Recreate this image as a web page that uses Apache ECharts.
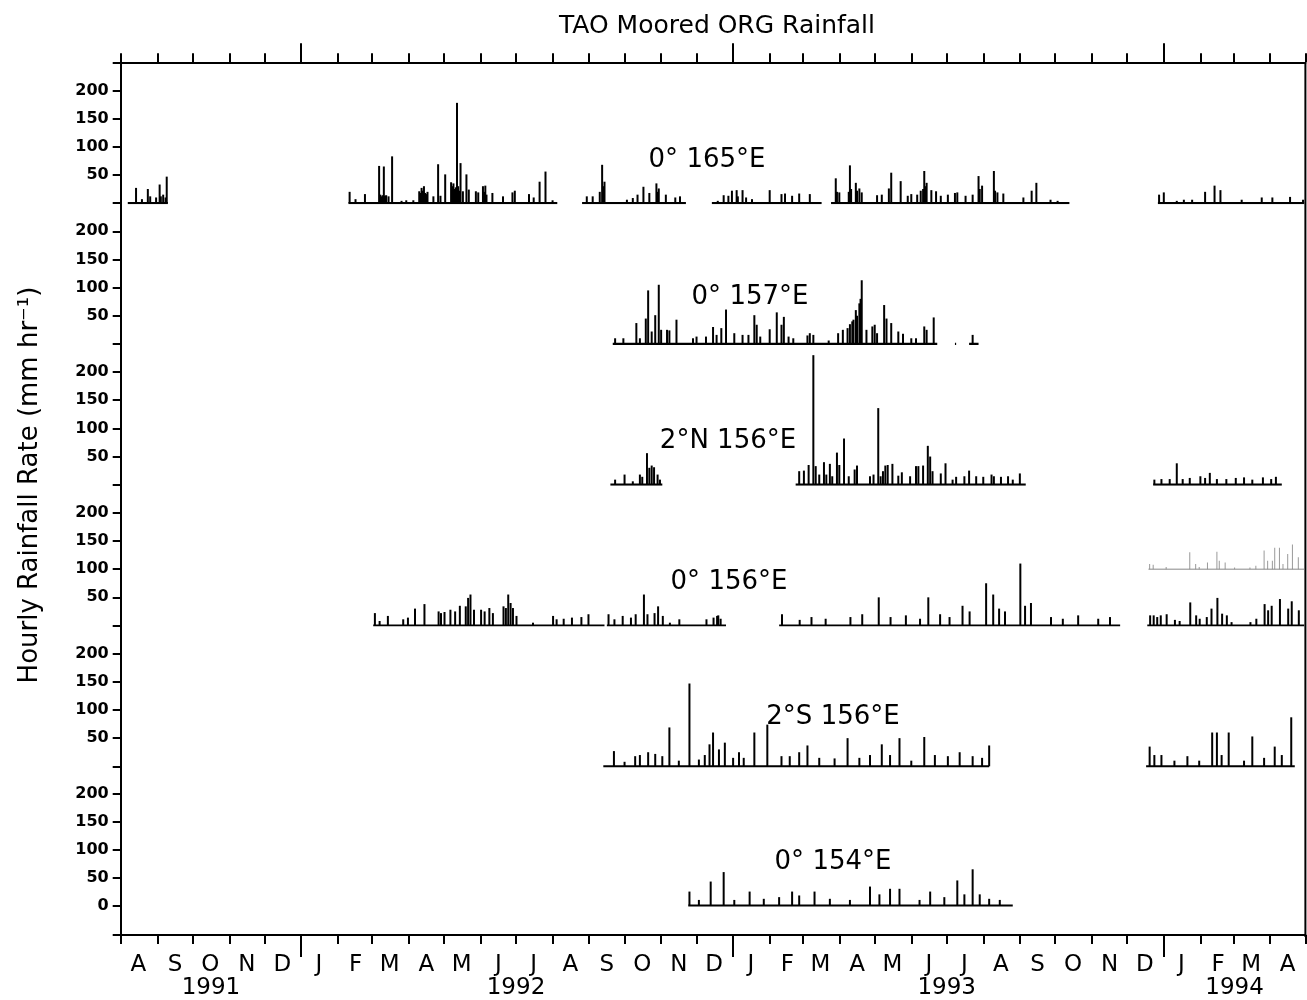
<!DOCTYPE html>
<html><head><meta charset="utf-8">
<script src="https://cdn.jsdelivr.net/npm/echarts@6/dist/echarts.min.js"></script>
<style>html,body{margin:0;padding:0;background:#fff}#c{width:1307px;height:1000px}</style>
</head><body><div id="c"></div><script>
// ---------------- data ----------------
const chartTitle = 'TAO Moored ORG Rainfall';
const yTitle = 'Hourly Rainfall Rate (mm hr⁻¹)';
const stationNames = ['0° 165°E', '0° 157°E', '2°N 156°E', '0° 156°E', '2°S 156°E', '0° 154°E'];
const monthLetters = ['A','S','O','N','D','J','F','M','A','M','J','J','A','S','O','N','D','J','F','M','A','M','J','J','A','S','O','N','D','J','F','M','A'];
const yearLabels = ['1991', '1992', '1993', '1994'];
const yTickValues = [0, 50, 100, 150, 200];
const timeStart = '1991-08-01';
const timeEnd = '1994-05-01';

// deployment periods (baseline segments)
const seg165 = [['1991-08-07','1991-09-10'],['1992-02-10','1992-08-05'],['1992-08-26','1992-11-22'],['1992-12-14','1993-03-17'],['1993-03-25','1993-10-13'],['1993-12-27','1994-04-30']];
const seg157 = [['1992-09-21','1993-06-23'],['1993-07-08','1993-07-09'],['1993-07-20','1993-07-28']];
const seg2N156 = [['1992-09-19','1992-11-02'],['1993-02-23','1993-09-06'],['1993-12-23','1994-04-11']];
const seg156 = [['1992-03-02','1992-09-14'],['1992-09-16','1992-12-26'],['1993-02-09','1993-11-25'],['1993-12-18','1994-04-30']];
const seg156b = [['1993-12-19','1994-04-30']];
const seg2S156 = [['1992-09-13','1993-08-06'],['1993-12-17','1994-04-22']];
const seg154 = [['1992-11-24','1993-08-26']];

// rainfall peaks [date, mm/hr]
const rain165 = [
 ['1991-08-14',27],['1991-08-19',7],['1991-08-24',25],['1991-08-26',12],['1991-08-31',10],['1991-09-03',33],['1991-09-04',12],['1991-09-06',15],['1991-09-08',10],['1991-09-09',47],
 ['1992-02-11',20],['1992-02-16',7],['1992-02-24',16],['1992-03-07',66],['1992-03-08',15],['1992-03-09',12],['1992-03-10',14],['1992-03-11',65],['1992-03-12',13],['1992-03-13',14],['1992-03-15',12],['1992-03-18',83],
 ['1992-03-26',4],['1992-03-30',5],['1992-04-05',5],['1992-04-10',21],['1992-04-11',18],['1992-04-12',27],['1992-04-13',22],['1992-04-14',30],['1992-04-15',18],['1992-04-16',16],['1992-04-17',20],['1992-04-22',12],
 ['1992-04-26',69],['1992-04-28',13],['1992-05-02',51],['1992-05-07',37],['1992-05-08',30],['1992-05-09',35],['1992-05-10',25],['1992-05-11',28],['1992-05-12',178],['1992-05-13',30],['1992-05-14',22],['1992-05-15',71],['1992-05-17',21],
 ['1992-05-20',51],['1992-05-22',24],['1992-05-28',21],['1992-05-30',19],['1992-06-03',30],['1992-06-04',20],['1992-06-05',31],['1992-06-06',15],['1992-06-11',18],['1992-06-20',12],['1992-06-28',19],['1992-06-30',22],
 ['1992-07-12',16],['1992-07-16',10],['1992-07-21',38],['1992-07-26',56],['1992-08-01',5],
 ['1992-08-30',12],['1992-09-04',12],['1992-09-10',20],['1992-09-12',68],['1992-09-13',30],['1992-09-14',38],['1992-10-03',6],['1992-10-08',9],['1992-10-12',15],['1992-10-17',29],
 ['1992-10-22',18],['1992-10-28',35],['1992-10-29',20],['1992-10-30',26],['1992-11-05',15],['1992-11-13',10],['1992-11-17',12],
 ['1992-12-19',4],['1992-12-24',14],['1992-12-28',13],['1992-12-31',22],['1993-01-04',23],['1993-01-05',12],['1993-01-09',23],['1993-01-12',10],['1993-01-17',7],['1993-02-01',23],['1993-02-11',16],
 ['1993-02-14',17],['1993-02-20',13],['1993-02-26',17],['1993-03-07',16],
 ['1993-03-29',44],['1993-03-30',20],['1993-04-01',19],['1993-04-09',20],['1993-04-10',67],['1993-04-11',25],['1993-04-15',36],['1993-04-16',22],['1993-04-18',26],['1993-04-20',19],['1993-05-03',14],['1993-05-07',15],['1993-05-13',26],['1993-05-15',54],
 ['1993-05-23',39],['1993-05-29',13],['1993-06-01',16],['1993-06-06',15],['1993-06-09',22],['1993-06-11',25],['1993-06-12',57],['1993-06-13',30],['1993-06-14',36],['1993-06-18',23],['1993-06-22',21],
 ['1993-06-26',13],['1993-07-02',15],['1993-07-08',18],['1993-07-10',19],['1993-07-17',13],['1993-07-23',15],['1993-07-28',48],['1993-07-29',25],['1993-07-31',31],['1993-08-10',57],['1993-08-11',22],['1993-08-13',19],
 ['1993-08-18',17],['1993-09-04',10],['1993-09-11',22],['1993-09-15',36],['1993-09-27',6],['1993-10-03',4],
 ['1993-12-28',15],['1994-01-01',19],['1994-01-12',4],['1994-01-18',6],['1994-01-25',6],['1994-02-05',20],['1994-02-13',31],['1994-02-18',23],['1994-03-08',6],['1994-03-25',10],
 ['1994-04-03',10],['1994-04-18',11],['1994-04-29',6]
];
const rain157 = [
 ['1992-09-23',10],['1992-09-30',10],['1992-10-11',37],['1992-10-14',10],['1992-10-19',45],['1992-10-21',95],['1992-10-24',22],['1992-10-27',51],['1992-10-30',105],['1992-11-01',25],
 ['1992-11-06',25],['1992-11-08',24],['1992-11-14',43],['1992-11-28',10],['1992-12-01',13],['1992-12-09',13],['1992-12-15',30],['1992-12-18',16],['1992-12-22',28],['1992-12-26',61],
 ['1993-01-02',19],['1993-01-09',16],['1993-01-14',16],['1993-01-19',51],['1993-01-21',34],['1993-01-24',13],['1993-02-01',26],['1993-02-07',56],['1993-02-11',34],['1993-02-13',48],
 ['1993-02-17',13],['1993-02-21',10],['1993-03-05',15],['1993-03-07',19],['1993-03-10',16],['1993-03-23',6],['1993-03-31',19],['1993-04-04',25],['1993-04-08',28],['1993-04-10',35],
 ['1993-04-12',40],['1993-04-13',43],['1993-04-15',60],['1993-04-16',50],['1993-04-18',72],['1993-04-19',80],['1993-04-20',113],['1993-04-24',25],['1993-04-29',31],['1993-05-01',34],
 ['1993-05-03',19],['1993-05-09',69],['1993-05-11',45],['1993-05-15',37],['1993-05-21',22],['1993-05-25',18],['1993-06-01',10],['1993-06-05',10],['1993-06-12',31],['1993-06-14',25],
 ['1993-06-20',47],['1993-07-23',16]
];
const rain2N156 = [
 ['1992-09-23',9],['1992-10-01',18],['1992-10-08',6],['1992-10-14',18],['1992-10-16',14],['1992-10-20',56],['1992-10-22',30],['1992-10-24',34],['1992-10-26',31],['1992-10-29',18],['1992-10-31',9],
 ['1993-02-26',24],['1993-03-02',25],['1993-03-06',35],['1993-03-10',230],['1993-03-12',33],['1993-03-15',18],['1993-03-19',40],['1993-03-21',18],['1993-03-24',37],['1993-03-26',15],
 ['1993-03-30',57],['1993-04-01',35],['1993-04-05',82],['1993-04-09',15],['1993-04-14',27],['1993-04-16',34],['1993-04-27',15],['1993-04-30',18],['1993-05-04',136],['1993-05-06',15],
 ['1993-05-08',24],['1993-05-10',34],['1993-05-12',35],['1993-05-16',37],['1993-05-21',16],['1993-05-24',22],['1993-05-31',15],['1993-06-05',33],['1993-06-07',33],['1993-06-11',34],
 ['1993-06-15',69],['1993-06-17',50],['1993-06-19',24],['1993-06-26',20],['1993-06-30',38],['1993-07-06',9],['1993-07-09',14],['1993-07-16',15],['1993-07-20',25],['1993-07-26',15],
 ['1993-08-01',14],['1993-08-08',18],['1993-08-10',15],['1993-08-16',14],['1993-08-22',15],['1993-08-26',9],['1993-09-01',20],
 ['1993-12-24',9],['1993-12-30',10],['1994-01-06',10],['1994-01-12',38],['1994-01-17',10],['1994-01-23',12],['1994-02-01',15],['1994-02-05',12],['1994-02-09',21],['1994-02-15',10],
 ['1994-02-23',10],['1994-03-03',12],['1994-03-10',13],['1994-03-17',9],['1994-03-26',13],['1994-04-02',10],['1994-04-06',14]
];
const rain156 = [
 ['1992-03-03',22],['1992-03-07',8],['1992-03-14',17],['1992-03-27',11],['1992-03-31',14],['1992-04-06',30],['1992-04-14',38],['1992-04-26',25],['1992-04-28',22],['1992-05-01',24],
 ['1992-05-06',28],['1992-05-10',25],['1992-05-14',35],['1992-05-19',34],['1992-05-21',49],['1992-05-23',55],['1992-05-26',28],['1992-06-01',28],['1992-06-04',25],['1992-06-08',31],
 ['1992-06-11',22],['1992-06-20',34],['1992-06-22',31],['1992-06-24',55],['1992-06-26',40],['1992-06-28',31],['1992-07-01',17],['1992-07-15',5],['1992-08-01',17],['1992-08-04',11],
 ['1992-08-10',12],['1992-08-17',14],['1992-08-25',15],['1992-08-31',20],
 ['1992-09-17',20],['1992-09-22',11],['1992-09-29',17],['1992-10-06',14],['1992-10-10',20],['1992-10-17',55],['1992-10-20',20],['1992-10-26',22],['1992-10-29',34],['1992-11-02',17],
 ['1992-11-08',5],['1992-11-16',11],['1992-12-09',11],['1992-12-15',14],['1992-12-18',17],['1992-12-19',18],['1992-12-21',12],
 ['1993-02-11',20],['1993-02-26',10],['1993-03-08',15],['1993-03-20',12],['1993-04-10',15],['1993-04-20',20],['1993-05-04',50],['1993-05-14',15],['1993-05-27',18],['1993-06-08',12],
 ['1993-06-15',50],['1993-06-25',20],['1993-07-03',15],['1993-07-14',35],['1993-07-20',25],['1993-08-03',75],['1993-08-09',55],['1993-08-14',30],['1993-08-19',25],['1993-09-01',110],
 ['1993-09-05',35],['1993-09-10',40],['1993-09-27',15],['1993-10-07',12],['1993-10-20',18],['1993-11-06',12],['1993-11-16',15],
 ['1993-12-20',18],['1993-12-23',18],['1993-12-26',15],['1993-12-29',18],['1994-01-03',20],['1994-01-10',10],['1994-01-14',8],['1994-01-23',41],['1994-01-28',18],['1994-01-31',12],
 ['1994-02-06',15],['1994-02-10',30],['1994-02-15',49],['1994-02-19',21],['1994-02-23',18],['1994-02-27',6],['1994-03-15',6],['1994-03-20',12],['1994-03-27',38],['1994-03-30',27],
 ['1994-04-02',35],['1994-04-09',47],['1994-04-16',30],['1994-04-19',43],['1994-04-25',27]
];
const rain156b = [
 ['1993-12-20',9],['1993-12-23',8],['1994-01-03',4],['1994-01-23',30],['1994-01-28',9],['1994-01-31',4],['1994-02-07',12],['1994-02-15',31],['1994-02-17',15],['1994-02-22',12],
 ['1994-03-02',3],['1994-03-15',3],['1994-03-20',6],['1994-03-27',33],['1994-03-30',15],['1994-04-03',15],['1994-04-05',38],['1994-04-09',38],['1994-04-12',9],['1994-04-16',27],
 ['1994-04-20',44],['1994-04-25',21]
];
const rain2S156 = [
 ['1992-09-22',27],['1992-10-01',8],['1992-10-10',18],['1992-10-14',20],['1992-10-21',25],['1992-10-27',22],['1992-11-02',18],['1992-11-08',69],['1992-11-16',10],['1992-11-25',147],
 ['1992-12-03',12],['1992-12-08',20],['1992-12-12',39],['1992-12-15',60],['1992-12-20',30],['1992-12-25',42],['1993-01-01',15],['1993-01-06',25],['1993-01-10',15],['1993-01-19',60],
 ['1993-01-30',74],['1993-02-11',18],['1993-02-18',18],['1993-02-26',25],['1993-03-05',37],['1993-03-15',15],['1993-03-28',14],['1993-04-08',50],['1993-04-18',15],['1993-04-27',20],
 ['1993-05-07',39],['1993-05-14',20],['1993-05-22',50],['1993-06-01',10],['1993-06-12',52],['1993-06-21',20],['1993-07-02',18],['1993-07-12',25],['1993-07-23',18],['1993-07-31',15],
 ['1993-08-06',37],
 ['1993-12-20',35],['1993-12-24',20],['1993-12-30',20],['1994-01-10',10],['1994-01-21',18],['1994-01-31',10],['1994-02-11',60],['1994-02-15',60],['1994-02-19',20],['1994-02-25',60],
 ['1994-03-10',10],['1994-03-17',53],['1994-03-27',15],['1994-04-05',35],['1994-04-11',20],['1994-04-19',87]
];
const rain154 = [
 ['1992-11-25',25],['1992-12-03',10],['1992-12-13',43],['1992-12-24',60],['1993-01-02',10],['1993-01-15',25],['1993-01-27',12],['1993-02-09',15],['1993-02-20',25],['1993-02-26',18],
 ['1993-03-11',25],['1993-03-24',12],['1993-04-10',10],['1993-04-27',34],['1993-05-05',20],['1993-05-14',30],['1993-05-22',30],['1993-06-08',10],['1993-06-17',25],['1993-06-29',15],
 ['1993-07-10',45],['1993-07-16',20],['1993-07-23',65],['1993-07-29',20],['1993-08-06',12],['1993-08-15',10]
];

// ---------------- layout ----------------
const L = 120.7, R = 1307 - 1305.4;
const panelTop = 62.3, panelH = 140.8;
const bottomMin = -53;

const panels = [
  {segs: seg165, rain: rain165},
  {segs: seg157, rain: rain157},
  {segs: seg2N156, rain: rain2N156},
  {segs: seg156, rain: rain156, extraSegs: seg156b, extraRain: rain156b},
  {segs: seg2S156, rain: rain2S156},
  {segs: seg154, rain: rain154}
];

function ts(s){ const p = s.split('-'); return new Date(+p[0], +p[1]-1, +p[2]).getTime(); }
const tMin = ts(timeStart), tMax = ts(timeEnd);
const monthStarts = [], monthMids = [];
for (let i = 0; i <= monthLetters.length; i++) {
  monthStarts.push(new Date(1991, 7 + i, 1).getTime());
  if (i < monthLetters.length) monthMids.push(new Date(1991, 7 + i, 16).getTime());
}
const yearStarts = [ts('1992-01-01'), ts('1993-01-01'), ts('1994-01-01')];
const yearCenters = [ (tMin + yearStarts[0]) / 2, ts('1992-07-01'), ts('1993-07-01'), (yearStarts[2] + tMax) / 2 ];

function baseline(segs){
  const d = [];
  segs.forEach(s => { d.push([ts(s[0]), 0]); d.push([ts(s[1]), 0]); d.push([ts(s[1]), '-']); });
  return d;
}
const FONT = 'DejaVu Sans';
const grids = [], xAxes = [], yAxes = [], series = [];
let plotBottom = 0;
panels.forEach((p, i) => {
  const last = i === panels.length - 1;
  const top = panelTop + panelH * i;
  const h = last ? panelH - bottomMin * (panelH / 250) : panelH;
  plotBottom = top + h;
  grids.push({left: L, right: R, top: top, height: h});
  const ymin = last ? bottomMin : 0;
  const tickVals = (i === 0 ? yTickValues.concat([250]) : last ? [bottomMin].concat(yTickValues) : yTickValues);
  const labVals = last ? yTickValues : yTickValues.slice(1);
  yAxes.push({
    gridIndex: i, type: 'value', min: ymin, max: 250,
    axisLine: {show: true, onZero: false, lineStyle: {color: '#000', width: 2}},
    axisTick: {show: true, length: 8, inside: false, customValues: tickVals, lineStyle: {color: '#000', width: 2}},
    axisLabel: {show: true, customValues: labVals, margin: 12, color: '#000', fontFamily: FONT, fontWeight: 'bold', fontSize: 16},
    splitLine: {show: false}
  });
  const yIdx = yAxes.length - 1;
  const xa = {
    gridIndex: i, type: 'value', min: tMin, max: tMax,
    axisLine: {show: false, onZero: false}, axisTick: {show: false}, axisLabel: {show: false}, splitLine: {show: false}
  };
  if (i === 0) {
    Object.assign(xa, {position: 'top',
      axisLine: {show: true, onZero: false, lineStyle: {color: '#000', width: 2}},
      axisTick: {show: true, length: 9, customValues: monthStarts, lineStyle: {color: '#000', width: 2}}});
  }
  if (last) {
    Object.assign(xa, {position: 'bottom',
      axisLine: {show: true, onZero: false, lineStyle: {color: '#000', width: 2}},
      axisTick: {show: true, length: 9, customValues: monthStarts, lineStyle: {color: '#000', width: 2}},
      axisLabel: {show: true, customValues: monthMids, margin: 19, color: '#000', fontFamily: FONT, fontSize: 23,
        formatter: v => { const k = monthMids.indexOf(v); return k >= 0 ? monthLetters[k] : ''; }}});
  }
  xAxes.push(xa);
  const xIdx = xAxes.length - 1;
  if (i === 0) {
    xAxes.push({gridIndex: i, type: 'value', min: tMin, max: tMax, position: 'top',
      axisLine: {show: false, onZero: false}, axisLabel: {show: false}, splitLine: {show: false},
      axisTick: {show: true, length: 19, customValues: yearStarts, lineStyle: {color: '#000', width: 2}}});
  }
  if (last) {
    xAxes.push({gridIndex: i, type: 'value', min: tMin, max: tMax, position: 'bottom',
      axisLine: {show: false, onZero: false}, splitLine: {show: false},
      axisTick: {show: true, length: 22, customValues: yearStarts, lineStyle: {color: '#000', width: 2}},
      axisLabel: {show: true, customValues: yearCenters, margin: 42, color: '#000', fontFamily: FONT, fontSize: 23,
        formatter: v => { const k = yearCenters.indexOf(v); return k >= 0 ? yearLabels[k] : ''; }}});
  }
  series.push({type: 'line', xAxisIndex: xIdx, yAxisIndex: yIdx, data: baseline(p.segs), showSymbol: false, silent: true,
    lineStyle: {color: '#000', width: 2.2}, animation: false});
  series.push({type: 'bar', xAxisIndex: xIdx, yAxisIndex: yIdx, barWidth: 2, barGap: '-100%', silent: true, animation: false,
    itemStyle: {color: '#000'}, data: p.rain.map(r => [ts(r[0]), r[1]])});
  if (p.extraSegs) {
    yAxes.push({gridIndex: i, type: 'value', min: -100, max: 150, show: false});
    const y2 = yAxes.length - 1;
    series.push({type: 'line', xAxisIndex: xIdx, yAxisIndex: y2, data: baseline(p.extraSegs), showSymbol: false, silent: true,
      lineStyle: {color: '#888', width: 1}, animation: false});
    series.push({type: 'bar', xAxisIndex: xIdx, yAxisIndex: y2, barWidth: 1, barGap: '-100%', silent: true, animation: false,
      itemStyle: {color: '#999'}, data: p.extraRain.map(r => [ts(r[0]), r[1]])});
  }
});

const labelPos = [[707,160],[750,297],[728,441],[729,582],[833,717],[833,862]];
const graphics = [
  {type: 'text', x: 717, y: 26, style: {text: chartTitle, font: '25px "DejaVu Sans"', fill: '#000', align: 'center', verticalAlign: 'middle'}},
  {type: 'text', x: 30, y: 485, rotation: Math.PI / 2, style: {text: yTitle, font: '26px "DejaVu Sans"', fill: '#000', align: 'center', verticalAlign: 'middle'}}
];
stationNames.forEach((n, i) => graphics.push({type: 'text', x: labelPos[i][0], y: labelPos[i][1],
  style: {text: n, font: '26px "DejaVu Sans"', fill: '#000', align: 'center', verticalAlign: 'middle'}}));
graphics.push({type: 'line', shape: {x1: 1305.4, y1: panelTop, x2: 1305.4, y2: plotBottom}, style: {stroke: '#000', lineWidth: 2}});

const chart = echarts.init(document.getElementById('c'), null, {renderer: 'canvas'});
chart.setOption({animation: false, backgroundColor: '#fff', grid: grids, xAxis: xAxes, yAxis: yAxes, series: series, graphic: graphics});
</script></body></html>
